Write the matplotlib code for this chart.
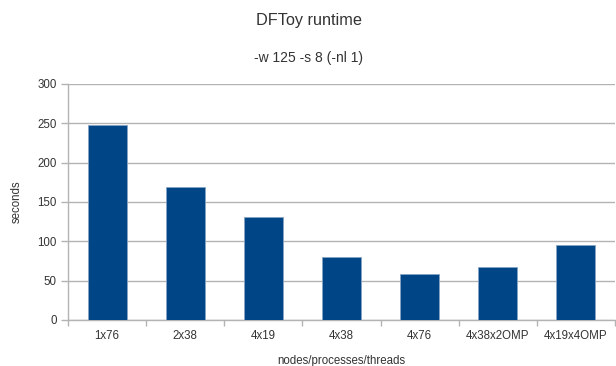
import matplotlib
matplotlib.use('Agg')
import matplotlib.pyplot as plt
import numpy as np

plt.rcParams['font.family'] = ['Liberation Sans', 'DejaVu Sans']

configs = ['1x76', '2x38', '4x19', '4x38', '4x76', '4x38x2OMP', '4x19x4OMP']
runtime = [247.3, 169.7, 131.1, 79.8, 59.0, 67.9, 95.5]

txt = '#333333'
grid = '#b3b3b3'

fig = plt.figure(figsize=(6.16, 3.66), dpi=100)
ax = fig.add_axes([68 / 616, 1 - 320 / 366, 547 / 616, 236 / 366])

x = np.arange(len(configs))
ax.bar(x, runtime, width=0.5, color='#004586', edgecolor='#86a3c4', linewidth=0.6, zorder=3)

ax.set_xlim(-0.5, len(configs) - 0.5)
ax.set_ylim(0, 300)
ax.set_yticks(np.arange(0, 301, 50))
ax.yaxis.grid(True, color=grid, linewidth=1.0, zorder=0)

# category labels centred, tick marks on the boundaries
ax.set_xticks(x)
ax.set_xticklabels(configs)
ax.set_xticks(np.arange(-0.5, len(configs) + 0.5, 1), minor=True)
ax.tick_params(axis='x', which='major', length=0, pad=7.5, labelsize=8.3, labelcolor=txt)
ax.tick_params(axis='x', which='minor', length=4, color=grid, width=1)
ax.tick_params(axis='y', length=5, color=grid, width=1, pad=3, labelsize=8.3, labelcolor=txt)

for s in ['top', 'right']:
    ax.spines[s].set_visible(False)
for s in ['left', 'bottom']:
    ax.spines[s].set_color(grid)
    ax.spines[s].set_linewidth(1.0)

ax.set_ylabel('seconds', fontsize=8.3, color=txt, labelpad=10.5)
ax.set_xlabel('nodes/processes/threads', fontsize=8.3, color=txt, labelpad=9)

fig.text(309 / 616, 1 - 21 / 366, 'DFToy runtime', ha='center', va='center', fontsize=11.7, color=txt)
fig.text(309 / 616, 1 - 58 / 366, '-w 125 -s 8 (-nl 1)', ha='center', va='center', fontsize=10, color=txt)

fig.savefig('out.png', dpi=100)
